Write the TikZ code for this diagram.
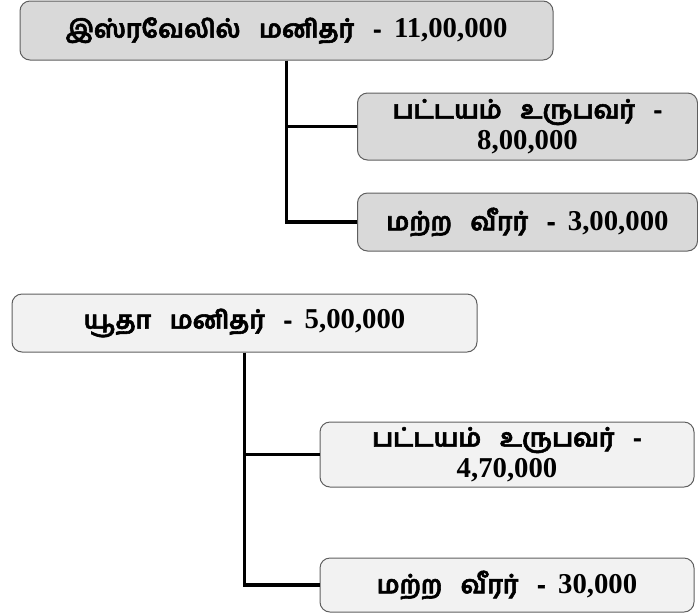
\documentclass[tikz,border=0pt]{standalone}
\usepackage{fontspec}
\usepackage{tikz}
\newfontfamily\tamil[Script=Tamil, FakeBold=2.2]{Hind Madurai}
\newfontfamily\numfont[Scale=1.15]{Liberation Serif}
\definecolor{darkbox}{HTML}{D9D9D9}
\definecolor{lightbox}{HTML}{F2F2F2}
\definecolor{rimgray}{HTML}{5F5F5F}
\begin{document}
\begin{tikzpicture}[x=1pt,y=-1pt,
    box/.style={draw=rimgray, line width=1pt, rounded corners=10pt, align=center,
                inner sep=0pt, font=\fontsize{25}{31}\selectfont\bfseries},
    grp/.style={draw, line width=3.2pt}]
            \useasboundingbox (0,0) rectangle (698,614);
            % first group
            \node[box, fill=darkbox, minimum width=533pt, minimum height=59pt] (isr) at (286.5,30.5)
                {\tamil இஸ்ரவேலில்~~~மனிதர்~~~-~~\numfont 11,00,000};
            \node[box, fill=darkbox, minimum width=340pt, minimum height=67pt] (swordA) at (527.5,126.5)
                {\tamil பட்டயம்~~~உருபவர்~~~-\\ \numfont 8,00,000};
            \node[box, fill=darkbox, minimum width=340pt, minimum height=58pt] (restA) at (527.5,222)
                {\tamil மற்ற~~~வீரர்~~~-~~\numfont 3,00,000};
            % second group
            \node[box, fill=lightbox, minimum width=465pt, minimum height=58pt] (jud) at (244.5,323)
                {\tamil யூதா~~~மனிதர்~~~-~~\numfont 5,00,000};
            \node[box, fill=lightbox, minimum width=374pt, minimum height=65pt] (swordB) at (507,454.5)
                {\tamil பட்டயம்~~~உருபவர்~~~-\\ \numfont 4,70,000};
            \node[box, fill=lightbox, minimum width=374pt, minimum height=54pt] (restB) at (507,585)
                {\tamil மற்ற~~~வீரர்~~~-~~\numfont 30,000};
            \draw[grp] (isr.south) |- (swordA.west);
            \draw[grp] (isr.south) |- (restA.west);
            \draw[grp] (jud.south) |- (swordB.west);
            \draw[grp] (jud.south) |- (restB.west);
        \end{tikzpicture}
\end{document}
